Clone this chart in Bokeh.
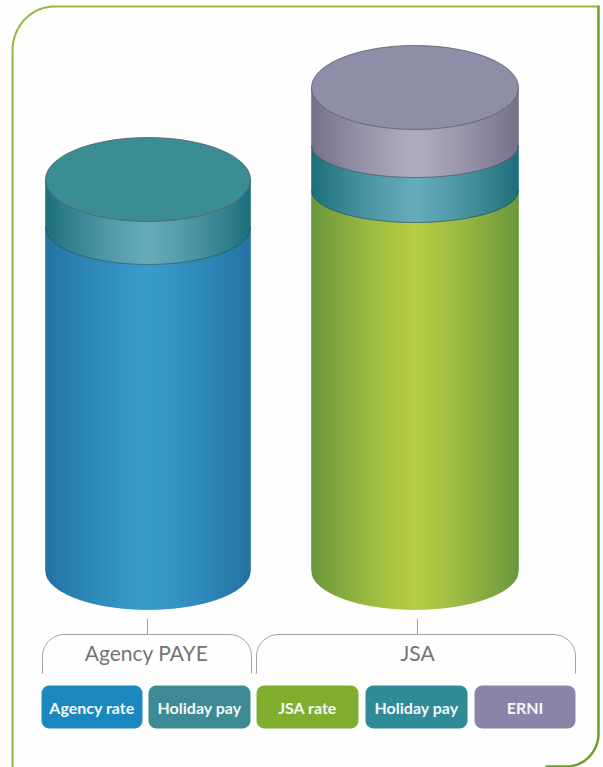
import numpy as np
from bokeh.core.properties import value
from bokeh.embed import file_html
from bokeh.models import ColumnDataSource, Range1d
from bokeh.plotting import figure
from bokeh.resources import INLINE

# Stacked segment heights per cylinder, bottom to top
agency_labels = ["Agency rate", "Holiday pay"]
agency_values = [343, 48]
jsa_labels = ["JSA rate", "Holiday pay", "ERNI"]
jsa_values = [380, 45, 58]

group_labels = ["Agency PAYE", "JSA"]
legend_labels = ["Agency rate", "Holiday pay", "JSA rate", "Holiday pay", "ERNI"]
legend_colors = ["#1a88bf", "#3d8a94", "#7fae2e", "#2f8b97", "#8a84a6"]

# (edge, centre) shading of a cylinder wall, and the flat lid colour
SHADES = {
    "Agency rate": ("#156a9c", "#2a94c8"),
    "Holiday pay": ("#0e6672", "#5ba5b5"),
    "JSA rate": ("#5f9030", "#b0c938"),
    "ERNI": ("#6c6782", "#aaa5bb"),
}
LIDS = {"Holiday pay": "#3a8d93", "ERNI": "#8f8ea9"}

W, H = 603, 767
BASE_Y = 570
BASE_RY = 39
LID_RY = 42

p = figure(width=W, height=H, x_range=Range1d(0, W), y_range=Range1d(H, 0),
           output_backend="svg", toolbar_location=None, min_border=0,
           outline_line_color=None, background_fill_color="#fefefe",
           border_fill_color="#fefefe")
p.axis.visible = False
p.grid.visible = False


def to_rgb(h):
    return np.array([int(h[i:i + 2], 16) for i in (1, 3, 5)], dtype=float)


def wall_colour(edge, centre, u):
    t = abs(u) ** 1.25
    c = to_rgb(centre) * (1 - t) + to_rgb(edge) * t
    return "#%02x%02x%02x" % tuple(int(round(v)) for v in c)


def draw_cylinder(x0, x1, labels, values, seam_ry):
    cx, rx = (x0 + x1) / 2, (x1 - x0) / 2
    edges = np.arange(x0, x1 + 0.01, 1.0)
    edges[-1] = x1
    lower = BASE_Y
    low_ry = BASE_RY
    for i, (label, val) in enumerate(zip(labels, values)):
        upper = lower - val
        up_ry = seam_ry[i] if i < len(seam_ry) else LID_RY
        xs, ys, fills = [], [], []
        for a, b in zip(edges[:-1], edges[1:]):
            ua, ub = (a - cx) / rx, (b - cx) / rx
            sa, sb = np.sqrt(max(0, 1 - ua**2)), np.sqrt(max(0, 1 - ub**2))
            xs.append([a, b, b, a])
            ys.append([lower + low_ry * sa, lower + low_ry * sb,
                       upper + up_ry * sb, upper + up_ry * sa])
            fills.append(wall_colour(*SHADES[label], (ua + ub) / 2))
        src = ColumnDataSource(dict(xs=xs, ys=ys, c=fills))
        p.patches("xs", "ys", source=src, fill_color="c", line_color="c", line_width=0.5)
        lower, low_ry = upper, up_ry
    # Seam lines between stacked segments
    u = np.linspace(-1, 1, 120)
    seam_x = cx + rx * u
    level = BASE_Y
    for val, ry in zip(values[:-1], seam_ry):
        level -= val
        p.line(seam_x, level + ry * np.sqrt(1 - u**2), line_color="#3f5560",
               line_width=1, line_alpha=0.7)
    # Lid
    p.ellipse(x=[cx], y=[lower], width=[2 * rx], height=[2 * LID_RY],
              fill_color=LIDS[labels[-1]], line_color="#55606a", line_width=1, line_alpha=0.8)


draw_cylinder(45, 250, agency_labels, agency_values, [37])
draw_cylinder(311, 518, jsa_labels, jsa_values, [32, 32])


def bracket(x0, x1, stem_x, top=634, foot=673, r=22):
    t = np.linspace(0, np.pi / 2, 16)
    xs = [x0] + list(x0 + r - r * np.cos(t)) + list(x1 - r + r * np.sin(t)) + [x1]
    ys = [foot] + list(top + r - r * np.sin(t)) + list(top + r - r * np.cos(t)) + [foot]
    p.line(xs, ys, line_color="#a0a0a0", line_width=1)
    p.line([stem_x, stem_x], [618, top], line_color="#a0a0a0", line_width=1)


bracket(42, 251, 147)
bracket(256, 575, 417)

p.text(x=[146, 417], y=[652, 652], text=group_labels, text_font=value("Lato"),
       text_font_size="21px", text_font_style="normal", text_color="#747474",
       text_align="center", text_baseline="middle")

# Colour key
key_left = [41, 148, 256, 365, 474]
key_right = [142, 250, 358, 467, 575]
key_cx = [(a + b) / 2 for a, b in zip(key_left, key_right)]
for a, b, c in zip(key_left, key_right, legend_colors):
    r = 8
    t = np.linspace(0, np.pi / 2, 8)
    xs = list(a + r - r * np.cos(t)) + list(b - r + r * np.sin(t)) + list(b - r + r * np.cos(t)) + list(a + r - r * np.sin(t))
    ys = list(685 + r - r * np.sin(t)) + list(685 + r - r * np.cos(t)) + list(728 - r + r * np.sin(t)) + list(728 - r + r * np.cos(t))
    p.patch(xs, ys, fill_color=c, line_color=None)
p.text(x=key_cx, y=[707] * 5, text=legend_labels, text_font=value("Lato"),
       text_font_size="16px", text_font_style="bold", text_color="#f4f8fa",
       text_align="center", text_baseline="middle")

# Panel frame with two rounded corners
t = np.linspace(0, np.pi / 2, 24)
frame_x = [12] + list(12 + 42 - 42 * np.cos(t)) + [598]
frame_y = [767] + list(6 + 44 - 44 * np.sin(t)) + [6]
p.line(frame_x, frame_y, line_color="#93b840", line_width=2)
corner_x = [598, 598] + list(598 - 32 + 32 * np.cos(t)) + [545]
corner_y = [5, 733] + list(733 + 33 * np.sin(t)) + [766]
p.line(corner_x, corner_y, line_color="#6fa02a", line_width=2.5)

open("out.html", "w").write(file_html(p, INLINE))
